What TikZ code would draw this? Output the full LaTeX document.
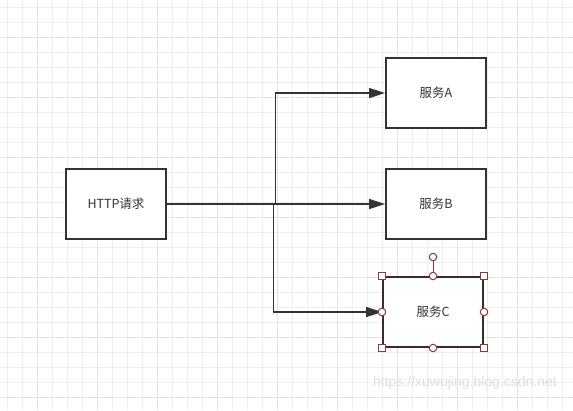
\documentclass[tikz,border=0pt]{standalone}
\usepackage{fontspec}
\setmainfont{Liberation Sans}
\newfontfamily\cjk{Noto Sans CJK SC}
\usetikzlibrary{arrows.meta}
\definecolor{gridminor}{HTML}{EEEEEE}
\definecolor{gridmajor}{HTML}{E2E2E2}
\definecolor{ink}{HTML}{333333}
\definecolor{selred}{HTML}{8B3A3A}
\definecolor{selborder}{HTML}{3E2A2A}
\tikzset{
  svc/.style={draw=ink, line width=2pt, fill=white, minimum width=100pt, minimum height=70pt, inner sep=0pt, font=\cjk\fontsize{12.5}{14}\selectfont, text=ink},
  conn/.style={draw=ink, line width=1.6pt, -{Triangle[length=16pt,width=10pt]}},
  hsq/.style={draw=selred, fill=white, line width=1pt, minimum size=7pt, inner sep=0pt, rectangle},
  hci/.style={draw=selred, fill=white, line width=1pt, minimum size=7.5pt, inner sep=0pt, circle},
}
\begin{document}
\begin{tikzpicture}[x=1pt,y=-1pt]
\useasboundingbox (0,0) rectangle (573,410);
\fill[white] (0,0) rectangle (573,410);
% grid
\foreach \i in {0,...,38} {
  \draw[gridminor, line width=0.8pt] (7.5+15*\i,0) -- (7.5+15*\i,410);
}
\foreach \i in {0,...,27} {
  \draw[gridminor, line width=0.8pt] (0,7.5+15*\i) -- (573,7.5+15*\i);
}
\foreach \i in {0,...,9} {
  \draw[gridmajor, line width=0.9pt] (37.5+60*\i,0) -- (37.5+60*\i,410);
}
\foreach \i in {0,...,6} {
  \draw[gridmajor, line width=0.9pt] (0,37.5+60*\i) -- (573,37.5+60*\i);
}
% nodes
\node[svc] (http) at (116,204) {HTTP请求};
\node[svc] (a) at (436,93) {服务A};
\node[svc] (b) at (436,204) {服务B};
\node[svc, draw=selborder] (c) at (433,312) {服务C};
% connectors
\coordinate (ja) at (275.5,204);
\coordinate (jc) at (273.5,204);
\draw[conn] (http.east) -- (ja) |- (a.west);
\draw[conn] (http.east) -- (b.west);
\draw[conn] (jc) |- (c.west);
% selection handles
\coordinate (rot) at (433,257);
\draw[selred, line width=1pt] (c.north) -- (rot);
\node[hci] (hr) at (rot) {};
\node[hsq] (h1) at (c.north west) {};
\node[hsq] (h2) at (c.north east) {};
\node[hsq] (h3) at (c.south west) {};
\node[hsq] (h4) at (c.south east) {};
\node[hci] (h5) at (c.north) {};
\node[hci] (h6) at (c.south) {};
\node[hci] (h7) at (c.west) {};
\node[hci] (h8) at (c.east) {};
% watermark
\node[text=black!13, font=\fontsize{14}{16}\selectfont, anchor=center] (wm) at (465,383) {https://xuwujing.blog.csdn.net};
\end{tikzpicture}
\end{document}
